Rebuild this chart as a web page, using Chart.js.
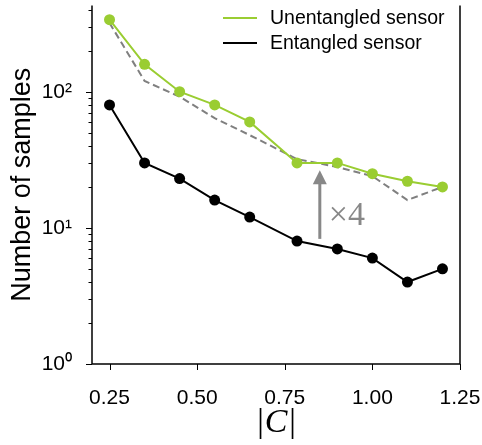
<!DOCTYPE html>
<html>
<head>
<meta charset="utf-8">
<script src="https://cdn.jsdelivr.net/npm/chart.js@4.4.0/dist/chart.umd.min.js"></script>
<style>
  html, body { margin: 0; padding: 0; background: #fff; }
  #wrap { width: 482px; height: 445px; }
</style>
</head>
<body>
<div id="wrap"><canvas id="samplesChart" width="482" height="445"></canvas></div>
<script>
// |C| values
const cValues = [0.25, 0.35, 0.45, 0.55, 0.65, 0.785, 0.9, 1.0, 1.1, 1.2]
// number of samples
const unentangled = [338, 159, 100, 80, 60, 30, 30, 25, 22, 20]
const entangled = [80, 30, 23, 16, 12, 8, 7, 6, 4, 5]
// dashed reference = entangled x 4
const entangledTimes4 = [320, 120, 92, 64, 48, 32, 28, 24, 16, 20]

const xTicks = [0.25, 0.5, 0.75, 1.0, 1.25]
const yMajor = [1, 10, 100]
const yMinor = [2, 3, 4, 5, 6, 7, 8, 9, 20, 30, 40, 50, 60, 70, 80, 90, 200, 300, 400]

const green = '#9acd32'
const sans = '"Liberation Sans", Arial, sans-serif'
const serif = '"Liberation Serif", "DejaVu Serif", serif'

const toPoints = ys => ys.map((y, i) => ({x: cValues[i], y: y}))

// no extra padding from tick labels, the plot box is fixed
const noPad = s => { s.paddingTop = 0; s.paddingBottom = 0; s.paddingLeft = 0; s.paddingRight = 0 }

// frame, ticks, legend, arrow and x4 label
const extras = {
  id: 'extras',
  afterDraw(chart) {
    const {ctx, chartArea: a, scales: {x, y}} = chart
    ctx.save()
    ctx.strokeStyle = '#000'
    ctx.lineWidth = 1.5
    ctx.beginPath()
    ctx.moveTo(a.left, a.top)
    ctx.lineTo(a.left, a.bottom)
    ctx.lineTo(a.right, a.bottom)
    ctx.lineTo(a.right, a.top)
    ctx.stroke()

    ctx.lineWidth = 1
    ctx.beginPath()
    xTicks.forEach(v => {
      const px = Math.round(x.getPixelForValue(v)) + 0.5
      ctx.moveTo(px, a.bottom)
      ctx.lineTo(px, a.bottom + 6)
    })
    yMajor.forEach(v => {
      const py = Math.round(y.getPixelForValue(v)) + 0.5
      ctx.moveTo(a.left, py)
      ctx.lineTo(a.left - 6, py)
    })
    yMinor.forEach(v => {
      const py = Math.round(y.getPixelForValue(v)) + 0.5
      ctx.moveTo(a.left, py)
      ctx.lineTo(a.left - 3.5, py)
    })
    ctx.stroke()

    // legend
    const items = [['Unentangled sensor', green], ['Entangled sensor', '#000']]
    ctx.font = '19.5px ' + sans
    ctx.textBaseline = 'middle'
    items.forEach(([label, col], i) => {
      const ly = 18 + i * 25
      ctx.strokeStyle = col
      ctx.lineWidth = 2
      ctx.beginPath()
      ctx.moveTo(223, ly)
      ctx.lineTo(257, ly)
      ctx.stroke()
      ctx.fillStyle = '#000'
      ctx.fillText(label, 270, ly + 1)
    })

    // arrow
    const ax = x.getPixelForValue(0.85)
    const yTail = y.getPixelForValue(8.3)
    const yTip = y.getPixelForValue(26.5)
    ctx.strokeStyle = '#888'
    ctx.fillStyle = '#888'
    ctx.lineWidth = 3
    ctx.beginPath()
    ctx.moveTo(ax, yTail)
    ctx.lineTo(ax, yTip + 12)
    ctx.stroke()
    ctx.beginPath()
    ctx.moveTo(ax, yTip)
    ctx.lineTo(ax - 7, yTip + 14)
    ctx.lineTo(ax + 7, yTip + 14)
    ctx.closePath()
    ctx.fill()

    ctx.font = '34px ' + serif
    ctx.textBaseline = 'alphabetic'
    ctx.fillText('\u00d74', ax + 9, y.getPixelForValue(10.5))
    ctx.restore()
  }
}

const sup = {1: '\u2070', 10: '\u00b9', 100: '\u00b2'}

new Chart(document.getElementById('samplesChart'), {
  type: 'line',
  data: {
    datasets: [
      {
        label: 'Entangled sensor',
        data: toPoints(entangled),
        borderColor: '#000',
        backgroundColor: '#000',
        borderWidth: 2,
        pointRadius: 5.5,
        pointBorderWidth: 0,
        order: 0
      },
      {
        label: 'Unentangled sensor',
        data: toPoints(unentangled),
        borderColor: green,
        backgroundColor: green,
        borderWidth: 2,
        pointRadius: 5.5,
        pointBorderWidth: 0,
        order: 1
      },
      {
        label: 'Entangled x 4',
        data: toPoints(entangledTimes4),
        borderColor: '#808080',
        borderWidth: 2,
        borderDash: [7, 4],
        pointRadius: 0,
        order: 2
      }
    ]
  },
  options: {
    responsive: false,
    animation: false,
    layout: {padding: {top: 0, right: 22, left: 0, bottom: 0}},
    plugins: {legend: {display: false}, tooltip: {enabled: false}},
    scales: {
      x: {
        type: 'linear',
        min: 0.2,
        max: 1.25,
        afterBuildTicks: s => { s.ticks = xTicks.map(v => ({value: v})) },
        afterFit: s => { s.height = 81; noPad(s) },
        grid: {display: false},
        border: {display: false},
        ticks: {
          color: '#000',
          padding: 14,
          font: {family: sans, size: 21},
          callback: v => v.toFixed(2)
        },
        title: {
          display: true,
          text: '|C|',
          color: '#000',
          padding: {top: 0, bottom: 2},
          font: {family: serif, size: 34, style: 'italic'}
        }
      },
      y: {
        type: 'logarithmic',
        min: 1,
        max: 430,
        afterBuildTicks: s => { s.ticks = yMajor.map(v => ({value: v})) },
        afterFit: s => { s.width = 92; noPad(s) },
        grid: {display: false},
        border: {display: false},
        ticks: {
          color: '#000',
          padding: 12,
          autoSkip: false,
          font: {family: sans, size: 21},
          callback: v => '10' + (sup[v] || '')
        },
        title: {
          display: true,
          text: 'Number of samples',
          color: '#000',
          padding: {top: 6, bottom: 0},
          font: {family: sans, size: 27}
        }
      }
    }
  },
  plugins: [extras]
})
</script>
</body>
</html>
